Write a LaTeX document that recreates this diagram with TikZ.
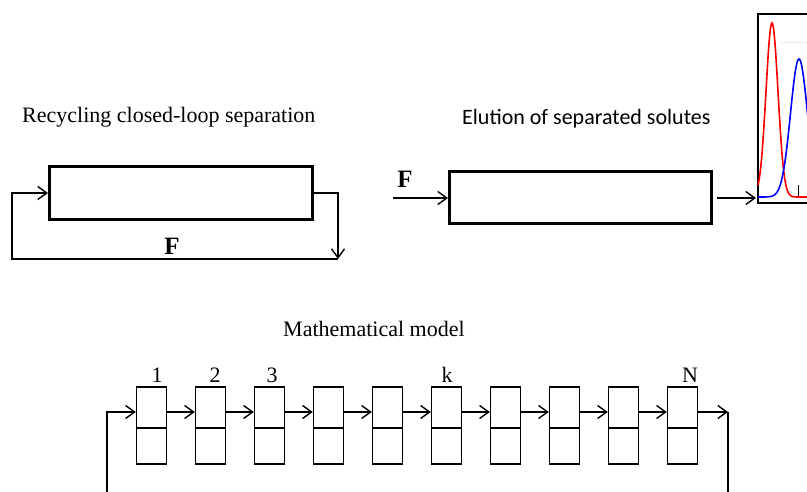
\documentclass[tikz,border=0pt]{standalone}
\usepackage{fontspec}
\setmainfont{Liberation Serif}
\newfontfamily\calib{Carlito}
\usetikzlibrary{arrows.meta}
\begin{document}
\begin{tikzpicture}[x=1pt,y=-1pt,
  thinline/.style={line width=1.4pt},
  arr/.style={thinline,-{Straight Barb[length=9pt,width=13pt,line width=1.4pt]}},
  column/.style={draw,line width=3pt,rectangle,inner sep=0pt},
  cell/.style={draw,line width=1.4pt,minimum width=30pt,minimum height=77pt,inner sep=0pt},
  ttl/.style={font=\fontsize{22}{26}\selectfont,inner sep=0pt,anchor=base west},
  lab/.style={font=\fontsize{22}{26}\selectfont,inner sep=0pt,anchor=base},
  flab/.style={font=\fontsize{25}{28}\selectfont\bfseries,inner sep=0pt}]
\useasboundingbox[fill=white] (0,0) rectangle (807,492);

% titles
\node[ttl] (t1) at (22,123) {Recycling closed-loop separation};
\node[ttl,font=\calib\fontsize{22}{26}\selectfont] (t2) at (462,125) {Elution of separated solutes};
\node[ttl] (t3) at (283,337) {Mathematical model};

% recycling column
\node[column,minimum width=263pt,minimum height=53pt] (colA) at (181,193) {};
\coordinate (a1) at (338,193);
\coordinate (a2) at (338,259);
\coordinate (a3) at (12,259);
\coordinate (a4) at (12,193);
\draw[arr] (colA.east) -- (a1) -- (a2);
\draw[arr] (a2) -- (a3) -- (a4) -- (colA.west);
\node[flab] (F1) at (172,246) {F};

% elution column
\node[column,minimum width=262pt,minimum height=52pt] (colB) at (580.5,197.5) {};
\coordinate (b0) at (393,198);
\coordinate (b1) at (717,198);
\coordinate (chartin) at (756,198);
\draw[arr] (b0) -- (colB.west |- b0);
\draw[arr] (b1) -- (chartin);
\node[flab] (F2) at (405,179) {F};

% chromatogram
\begin{scope}
\clip (0,0) rectangle (807,492);
\draw[gray!15,line width=1pt] (780,43) -- (830,43);
\draw[line width=1.3pt] (758,203) rectangle (840,14);
\draw[line width=1pt] (798,185) -- (798,197);
\draw[red,line width=1.6pt] plot[domain=758:830,samples=120] (\x,{197-174*exp(-((\x-772)/6)^2/2)});
\draw[blue,line width=1.6pt] plot[domain=758:830,samples=120] (\x,{197-138*exp(-((\x-799)/8.5)^2/2)});
\end{scope}

% mathematical model cells
\foreach \i in {0,...,9}
  \node[cell] (c\i) at ({151.5+59*\i},425.5) {};
\foreach \i in {0,...,9}
  \draw[line width=1.4pt] (c\i.west |- 0,428) -- (c\i.east |- 0,428);
\foreach \i [evaluate=\i as \j using int(\i+1)] in {0,...,8}
  \draw[arr] (c\i.east |- 0,412) -- (c\j.west |- 0,412);

\coordinate (inB) at (107,492);
\coordinate (inT) at (107,412);
\draw[arr] (inB) -- (inT) -- (c0.west |- inT);
\coordinate (outT) at (728,412);
\coordinate (outB) at (728,492);
\draw[arr] (c9.east |- outT) -- (outT);
\draw[thinline] (outT) -- (outB);

% labels
\node[lab] (l1) at (157,382) {1};
\node[lab] (l2) at (215,382) {2};
\node[lab] (l3) at (272,382) {3};
\node[lab] (lk) at (447,382) {k};
\node[lab] (lN) at (690,382) {N};
\end{tikzpicture}
\end{document}
